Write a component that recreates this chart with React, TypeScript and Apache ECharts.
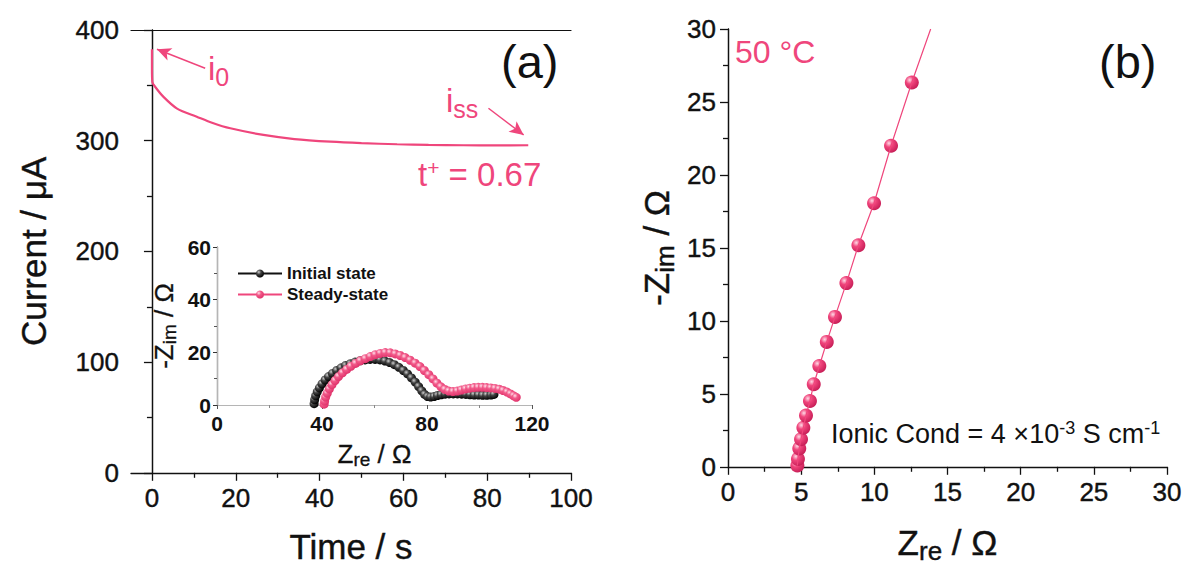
import React, { useEffect, useRef } from 'react';
import * as echarts from 'echarts';

const FONT = 'Liberation Sans, Arial, sans-serif';
const PINK = '#ef467c';
const BLACK = '#111111';

// Panel (a): chronoamperometry
const aTimeCurrent: number[][] = [
  [0, 382.6], [0, 365], [0.1, 353], [0.8, 348.5], [2.7, 339.8], [6, 329], [10.7, 321.7],
  [14.5, 316], [18.7, 311.2], [26.6, 305.2], [34, 301.5], [42.6, 299.1], [50, 297.8],
  [58.5, 296.8], [66, 296.2], [74.3, 295.9], [82, 295.8], [89.8, 295.9],
];
const aXTicks = [0, 20, 40, 60, 80, 100];
const aXMinorTicks = [10, 30, 50, 70, 90];
const arrowI0 = [[12.7, 365.4], [1.2, 382.6]];
const arrowIss = [[80.3, 329.3], [88.7, 305.2]];

// Inset: Nyquist plots
const insetInitial: number[][] = [
  [37, 0.5], [37.2, 2], [37.6, 3.5], [38.2, 5], [39, 6.5], [40, 8], [41.2, 9.5], [42.5, 10.8],
  [44, 12], [45.6, 13.1], [47.3, 14.1], [49, 15], [50.8, 15.7], [52.6, 16.3], [54.5, 16.8],
  [56.4, 17.1], [58.3, 17.3], [60.2, 17.3], [62.1, 17.1], [64, 16.7], [65.8, 16.1], [67.6, 15.3],
  [69.3, 14.3], [71, 13.1], [72.6, 11.8], [74.1, 10.3], [75.5, 8.7], [76.8, 7], [78, 5.4],
  [79.1, 4], [80.2, 3.2], [81.4, 3], [82.7, 3.2], [84, 3.6], [85.4, 3.9], [86.9, 4.1],
  [88.4, 4.2], [90, 4.2], [91.6, 4.2], [93.2, 4.1], [94.8, 4], [96.4, 3.9], [98, 3.8],
  [99.6, 3.8], [101.2, 3.7], [102.8, 3.7], [104.4, 3.8], [105.5, 4],
];
const insetSteady: number[][] = [
  [40.8, 0.3], [41, 1.5], [41.4, 3], [42, 4.5], [42.8, 6.1], [43.8, 7.7], [45, 9.3], [46.3, 10.8],
  [47.8, 12.2], [49.4, 13.5], [51, 14.7], [52.8, 15.8], [54.6, 16.8], [56.5, 17.6], [58.4, 18.4],
  [60.3, 19.1], [62.2, 19.6], [64.1, 19.9], [66, 19.8], [67.9, 19.4], [69.8, 18.8], [71.7, 18],
  [73.6, 17], [75.5, 15.9], [77.3, 14.6], [79, 13.1], [80.7, 11.5], [82.3, 9.9], [83.8, 8.3],
  [85.3, 6.9], [86.8, 5.9], [88.3, 5.3], [89.9, 5.1], [91.5, 5.3], [93.1, 5.7], [94.7, 6.1],
  [96.3, 6.4], [97.9, 6.6], [99.5, 6.7], [101.1, 6.7], [102.7, 6.6], [104.3, 6.5], [105.9, 6.3],
  [107.5, 6], [109, 5.5], [110.5, 4.9], [111.8, 4.2], [113, 3.5], [114, 2.9],
];

// Panel (b): Nyquist at 50 °C
const bPoints: number[][] = [
  [4.74, 0.09], [4.78, 0.54], [4.87, 1.26], [4.99, 1.89], [5.15, 2.68], [5.33, 3.51],
  [5.6, 4.51], [5.86, 5.66], [6.24, 6.91], [6.75, 8.56], [7.31, 10.27], [8.09, 12.59],
  [8.91, 15.18], [9.98, 18.06], [11.14, 22.0], [12.56, 26.33],
];
const bFitEnd: number[][] = [[13.85, 30]];

const sphere = (c0: string, c1: string, c2: string) => ({
  type: 'radial', x: 0.35, y: 0.32, r: 0.7,
  colorStops: [
    { offset: 0, color: c0 },
    { offset: 0.4, color: c1 },
    { offset: 1, color: c2 },
  ],
});

const tickLabel = (size: number, bold = false) => ({
  color: BLACK, fontSize: size, fontFamily: FONT, fontWeight: bold ? 'bold' : 'normal',
  textBorderColor: BLACK, textBorderWidth: bold ? 0 : 0.4,
});

const borderAxis = (gridIndex: number, position: string, color: string) => ({
  gridIndex, position, type: 'value', min: 0, max: 1,
  axisLine: { show: true, lineStyle: { color, width: 1.2 } },
  axisTick: { show: false }, axisLabel: { show: false }, splitLine: { show: false },
});

export default function App() {
  const ref = useRef<HTMLDivElement>(null);
  useEffect(() => {
    if (!ref.current) return;
    const chart = echarts.init(ref.current, null, { renderer: 'svg' });
    const axisLineMain = { show: true, lineStyle: { color: BLACK, width: 1.3 } };
    const subRich = (big: number, small: number, pad: number, stroke = 0.4) => ({
      m: { fontSize: big, fontFamily: FONT, color: BLACK, textBorderColor: BLACK, textBorderWidth: stroke },
      s: { fontSize: small, fontFamily: FONT, color: BLACK, padding: [pad, 0, 0, 0], textBorderColor: BLACK, textBorderWidth: stroke },
    });
    const titleStyle = { fontSize: 35, fontFamily: FONT, color: BLACK, textBorderColor: BLACK, textBorderWidth: 0.4 };
    const option: any = {
      animation: false,
      backgroundColor: '#ffffff',
      grid: [
        { left: 131, right: 616, top: 30, bottom: 96 },
        { left: 728, right: 20, top: 29, bottom: 96 },
        { left: 217, right: 655, top: 247, bottom: 164 },
      ],
      legend: {
        data: ['Initial state', 'Steady-state'],
        orient: 'vertical', left: 232, top: 260, itemWidth: 44, itemHeight: 10, itemGap: 4,
        textStyle: { fontSize: 17, fontWeight: 'bold', fontFamily: FONT, color: BLACK },
      },
      xAxis: [
        {
          gridIndex: 0, type: 'value', min: -5, max: 100,
          axisLine: axisLineMain,
          axisTick: { show: true, customValues: aXTicks, length: 8, lineStyle: { color: BLACK, width: 1.3 } },
          axisLabel: { customValues: aXTicks, margin: 12, ...tickLabel(26) },
          splitLine: { show: false },
          name: 'Time / s', nameLocation: 'middle', nameGap: 56,
          nameTextStyle: titleStyle,
        },
        {
          gridIndex: 0, type: 'value', min: -5, max: 100, position: 'bottom',
          axisLine: { show: false },
          axisTick: { show: true, customValues: aXMinorTicks, length: 5, lineStyle: { color: BLACK, width: 1.3 } },
          axisLabel: { show: false }, splitLine: { show: false },
        },
        borderAxis(0, 'top', BLACK),
        {
          gridIndex: 1, type: 'value', min: 0, max: 30, interval: 5,
          axisLine: axisLineMain,
          axisTick: { show: true, length: 8, lineStyle: { color: BLACK, width: 1.3 } },
          minorTick: { show: true, splitNumber: 2, length: 5, lineStyle: { color: BLACK, width: 1.3 } },
          axisLabel: { margin: 12, ...tickLabel(26) },
          splitLine: { show: false },
          name: '{m|Z}{s|re}{m| / Ω}', nameLocation: 'middle', nameGap: 54,
          nameTextStyle: { rich: subRich(35, 26, 17) },
        },
        borderAxis(1, 'top', BLACK),
        {
          gridIndex: 2, type: 'value', min: 0, max: 120, interval: 40,
          axisLine: { show: true, lineStyle: { color: '#8a8a8a', width: 1.2 } },
          axisTick: { show: true, length: 4, lineStyle: { color: '#555' } },
          minorTick: { show: true, splitNumber: 2, length: 3, lineStyle: { color: '#888' } },
          axisLabel: { margin: 8, ...tickLabel(21, true) },
          splitLine: { show: false },
          name: '{m|Z}{s|re}{m| / Ω}', nameLocation: 'middle', nameGap: 33,
          nameTextStyle: { rich: subRich(26, 19, 12, 0.3) },
        },
        borderAxis(2, 'top', '#b5b5b5'),
      ],
      yAxis: [
        {
          gridIndex: 0, type: 'value', min: 0, max: 400, interval: 100,
          axisLine: axisLineMain,
          axisTick: { show: true, length: 8, lineStyle: { color: BLACK, width: 1.3 } },
          minorTick: { show: true, splitNumber: 2, length: 5, lineStyle: { color: BLACK, width: 1.3 } },
          axisLabel: { margin: 12, ...tickLabel(26) },
          splitLine: { show: false },
          name: 'Current / μA', nameLocation: 'middle', nameGap: 80, nameRotate: 90,
          nameTextStyle: titleStyle,
        },
        borderAxis(0, 'right', BLACK),
        {
          gridIndex: 1, type: 'value', min: 0, max: 30, interval: 5,
          axisLine: axisLineMain,
          axisTick: { show: true, length: 8, lineStyle: { color: BLACK, width: 1.3 } },
          minorTick: { show: true, splitNumber: 2, length: 5, lineStyle: { color: BLACK, width: 1.3 } },
          axisLabel: { margin: 12, ...tickLabel(26) },
          splitLine: { show: false },
          name: '{m|-Z}{s|im}{m| / Ω}', nameLocation: 'middle', nameGap: 50, nameRotate: 90,
          nameTextStyle: { rich: subRich(35, 26, 17) },
        },
        borderAxis(1, 'right', BLACK),
        {
          gridIndex: 2, type: 'value', min: 0, max: 60, interval: 20,
          axisLine: { show: true, lineStyle: { color: '#333', width: 1.2 } },
          axisTick: { show: true, length: 4, lineStyle: { color: '#333' } },
          minorTick: { show: true, splitNumber: 2, length: 3, lineStyle: { color: '#555' } },
          axisLabel: { margin: 6, ...tickLabel(21, true) },
          splitLine: { show: false },
          name: '{m|-Z}{s|im}{m| / Ω}', nameLocation: 'middle', nameGap: 38, nameRotate: 90,
          nameTextStyle: { rich: subRich(26, 19, 12, 0.3) },
        },
        borderAxis(2, 'right', '#b5b5b5'),
      ],
      series: [
        {
          name: 'Current', type: 'line', xAxisIndex: 0, yAxisIndex: 0,
          data: aTimeCurrent, smooth: 0.3, symbol: 'none',
          lineStyle: { color: PINK, width: 2.2 },
          markLine: {
            silent: true, symbol: ['none', 'arrow'], symbolSize: [10, 14],
            lineStyle: { color: PINK, width: 1.5, type: 'solid' },
            label: { show: false },
            data: [
              [{ coord: arrowI0[0] }, { coord: arrowI0[1] }],
              [{ coord: arrowIss[0] }, { coord: arrowIss[1] }],
            ],
          },
        },
        {
          name: 'Fit', type: 'line', xAxisIndex: 3, yAxisIndex: 2,
          data: [...bPoints, ...bFitEnd], symbol: 'none',
          lineStyle: { color: PINK, width: 1.2 },
        },
        {
          name: 'Nyquist 50', type: 'scatter', xAxisIndex: 3, yAxisIndex: 2,
          data: bPoints, symbol: 'circle', symbolSize: 14,
          itemStyle: { color: sphere('#ffd9e5', '#f0457c', '#c81f58'), opacity: 1 },
        },
        {
          name: 'Initial state', type: 'line', xAxisIndex: 5, yAxisIndex: 4,
          data: insetInitial, symbol: 'circle', symbolSize: 9, showSymbol: true,
          lineStyle: { color: BLACK, width: 1.2 },
          itemStyle: { color: sphere('#cfcfcf', '#444444', '#000000') },
        },
        {
          name: 'Steady-state', type: 'line', xAxisIndex: 5, yAxisIndex: 4,
          data: insetSteady, symbol: 'circle', symbolSize: 9, showSymbol: true,
          lineStyle: { color: PINK, width: 1.2 },
          itemStyle: { color: sphere('#ffe0ea', '#f25a8a', '#e0336b') },
        },
      ],
      graphic: [
        {
          type: 'text', left: 208, top: 52,
          style: {
            text: '{m|i}{s|0}', fill: PINK,
            rich: {
              m: { fontSize: 33, fontFamily: FONT, fill: PINK },
              s: { fontSize: 25, fontFamily: FONT, fill: PINK, padding: [16, 0, 0, 0] },
            },
          },
        },
        {
          type: 'text', left: 446, top: 84,
          style: {
            text: '{m|i}{s|ss}', fill: PINK,
            rich: {
              m: { fontSize: 33, fontFamily: FONT, fill: PINK },
              s: { fontSize: 25, fontFamily: FONT, fill: PINK, padding: [16, 0, 0, 0] },
            },
          },
        },
        {
          type: 'text', left: 418, top: 157,
          style: {
            text: '{m|t}{p|+}{m| = 0.67}', fill: PINK,
            rich: {
              m: { fontSize: 33, fontFamily: FONT, fill: PINK },
              p: { fontSize: 21, fontFamily: FONT, fill: PINK, padding: [0, 0, 14, 0] },
            },
          },
        },
        {
          type: 'text', left: 501, top: 38,
          style: { text: '(a)', fill: BLACK, font: `47px ${FONT}` },
        },
        {
          type: 'text', left: 1099, top: 38,
          style: { text: '(b)', fill: BLACK, font: `47px ${FONT}` },
        },
        {
          type: 'text', left: 735, top: 36,
          style: { text: '50 °C', fill: PINK, font: `32px ${FONT}` },
        },
        {
          type: 'text', left: 831, top: 419,
          style: {
            text: '{m|Ionic Cond = 4 ×10}{p|-3}{m| S cm}{p|-1}', fill: BLACK,
            rich: {
              m: { fontSize: 27, fontFamily: FONT, fill: BLACK },
              p: { fontSize: 18, fontFamily: FONT, fill: BLACK, padding: [0, 0, 12, 0] },
            },
          },
        },
      ],
    };
    chart.setOption(option);
    return () => chart.dispose();
  }, []);
  return (
    <div
      ref={ref}
      style={{ position: 'fixed', left: 0, top: 0, width: 1187, height: 569, background: '#fff' }}
    />
  );
}
